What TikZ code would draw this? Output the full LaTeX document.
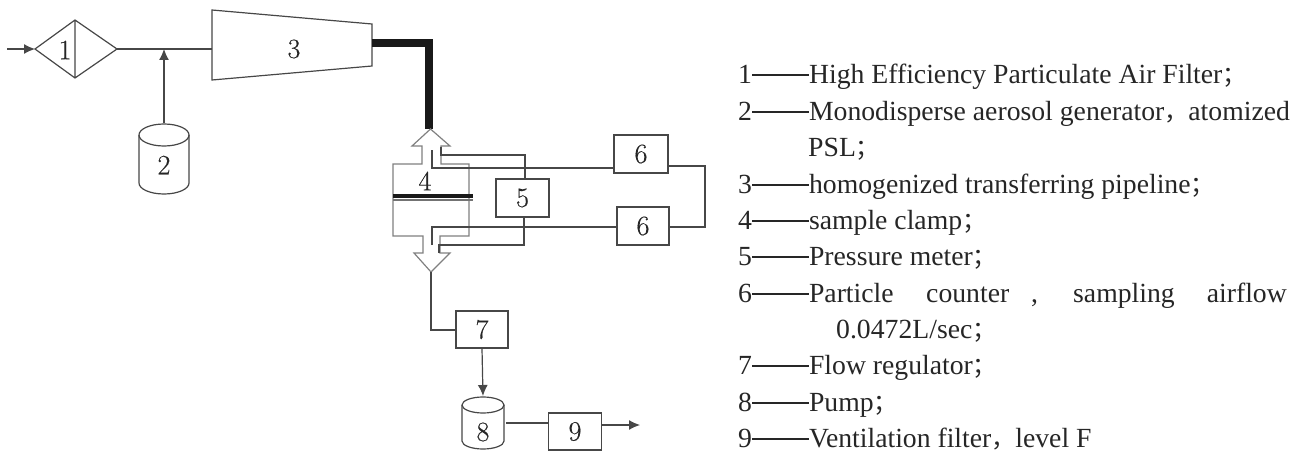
\documentclass[tikz,border=0pt]{standalone}
\usepackage{fontspec}
\setmainfont{Liberation Serif}
\newfontfamily\cjkf{Noto Sans CJK SC}
\newfontfamily\digitf[FakeBold=0.35]{Latin Modern Roman}
\usetikzlibrary{arrows.meta}
\tikzset{
 ln/.style={draw=black!72,line width=1.2pt},
 grayln/.style={draw=black!50,line width=1.2pt},
 boxn/.style={ln,fill=none,inner sep=0pt,font=\digitf\fontsize{28}{28}\selectfont,text=black!85},
 lab/.style={font=\digitf\fontsize{28}{28}\selectfont,text=black!85,inner sep=0pt},
 legend/.style={anchor=base west,inner sep=0pt,font=\fontsize{27.7}{27.7}\selectfont,text=black!85},
 legendr/.style={legend,anchor=base east},
 arr/.style={ln,-{Latex[length=11pt,width=10pt]}},
}
\begin{document}
\begin{tikzpicture}[x=1pt,y=-1pt]
\useasboundingbox (0,0) rectangle (1301,452);
% filter 1
\coordinate (inA) at (7,49);
\coordinate (f1L) at (35,49);
\coordinate (f1R) at (117,49);
\coordinate (f1T) at (75,20);
\coordinate (f1B) at (75,78);
\draw[ln] (f1L)--(f1T)--(f1R)--(f1B)--cycle (f1T)--(f1B);
\node[lab] (n1) at (65,50) {1};
\draw[arr] (inA)--(f1L);
% transfer 3
\coordinate (t1) at (212,10); \coordinate (t2) at (372,24);
\coordinate (t3) at (372,66); \coordinate (t4) at (212,80);
\draw[ln] (t1)--(t2)--(t3)--(t4)--cycle;
\node[lab] (n3) at (294,49) {3};
\coordinate (t4m) at (212,49);
\coordinate (jn) at (164,49);
\draw[ln] (f1R)--(t4m);
% generator 2
\draw[ln] (139,135) arc[x radius=25,y radius=11,start angle=180,end angle=-180];
\draw[ln] (139,135)--(139,183) arc[x radius=25,y radius=11,start angle=180,end angle=0]--(189,135);
\node[lab] (n2) at (164,165) {2};
\coordinate (g2t) at (164,123);
\draw[arr] (g2t)--(jn);
% pipe
\coordinate (p1) at (372,43); \coordinate (p2) at (429,43); \coordinate (p3) at (429,129);
\draw[line width=8pt,black!90,line join=miter] (p1)--(p2)--(p3);
% clamp 4
\draw[grayln,line join=miter] (422,164)--(422,146)--(412,146)--(430.5,129)--(450,146)--(441,146)--(441,164)--(469,164)--(469,236)--(440,236)--(440,253)--(450,253)--(431,272)--(414,253)--(423,253)--(423,236)--(393,236)--(393,164)--cycle;
\draw[line width=3.2pt,black!90] (393,196)--(473,196);
\draw[line width=1.4pt,black!55] (393,200)--(473,200);
\node[lab] (n4) at (425,181) {4};
% 5 and 6
\node[boxn,minimum width=53pt,minimum height=38pt] (b5) at (522.5,198) {5};
\node[boxn,minimum width=54pt,minimum height=38pt] (b6a) at (641,154) {6};
\node[boxn,minimum width=52pt,minimum height=38pt] (b6b) at (643,226) {6};
\coordinate (a1) at (432,150); \coordinate (a2) at (432,168);
\coordinate (a3) at (441,147); \coordinate (a4) at (441,155); \coordinate (a5) at (525,155);
\coordinate (c1) at (432,245); \coordinate (c2) at (432,227);
\coordinate (c3) at (439,253); \coordinate (c4) at (439,245); \coordinate (c5) at (524,245);
\draw[ln] (a1)--(a2)--(a2-|b6a.west);
\draw[ln] (a3)--(a4)--(a5)--(a5|-b5.north);
\draw[ln] (c1)--(c2)--(c2-|b6b.west);
\draw[ln] (c3)--(c4)--(c5)--(c5|-b5.south);
\coordinate (r1) at (705,166); \coordinate (r2) at (705,227);
\draw[ln] (r1-|b6a.east)--(r1)--(r2)--(r2-|b6b.east);
% 7 8 9
\node[boxn,minimum width=52pt,minimum height=37pt] (b7) at (482,329.5) {7};
\node[boxn,minimum width=53pt,minimum height=37pt] (b9) at (575,431.5) {9};
\coordinate (ap) at (431,272); \coordinate (el) at (431,330);
\draw[ln] (ap)--(el)--(el-|b7.west);
\draw[ln] (462,405) arc[x radius=21,y radius=8,start angle=180,end angle=-180];
\draw[ln] (462,405)--(462,441) arc[x radius=21,y radius=8,start angle=180,end angle=0]--(504,405);
\node[lab] (n8) at (483,432) {8};
\coordinate (c8t) at (483,396);
\coordinate (c8r) at (506,423);
\draw[arr] (b7.south)--(c8t);
\draw[ln] (c8r)--(c8r-|b9.west);
\coordinate (o9) at (640,425);
\draw[arr] (o9-|b9.east)--(o9);
% legend
\newcommand\dsh{\rule[0.26em]{57pt}{1.9pt}}
\newcommand\semi{{\cjkf\fontsize{24}{24}\selectfont ；}}
\newcommand\cma{{\cjkf\fontsize{24}{24}\selectfont ，}}
\node[legend] (l1) at (738,83.5) {1\dsh High Efficiency Particulate Air Filter\semi};
\node[legend] (l2) at (738,120) {2\dsh Monodisperse aerosol generator\cma atomized};
\node[legend] (l2b) at (808,156.5) {PSL\semi};
\node[legend] (l3) at (738,193) {3\dsh homogenized transferring pipeline\semi};
\node[legend] (l4) at (738,229) {4\dsh sample clamp\semi};
\node[legend] (l5) at (738,265.5) {5\dsh Pressure meter\semi};
\node[legend] (l6) at (738,302) {6\dsh Particle};
\node[legend] (l6a) at (926,302) {counter};
\node[legend] (l6b) at (1031,302) {,};
\node[legend] (l6c) at (1073,302) {sampling};
\node[legendr] (l6d) at (1287,302) {airflow};
\node[legend] (l6e) at (836,338) {0.0472L/sec\semi};
\node[legend] (l7) at (738,374.5) {7\dsh Flow regulator\semi};
\node[legend] (l8) at (738,411) {8\dsh Pump\semi};
\node[legend] (l9) at (738,447) {9\dsh Ventilation filter\cma level F};
\end{tikzpicture}
\end{document}
